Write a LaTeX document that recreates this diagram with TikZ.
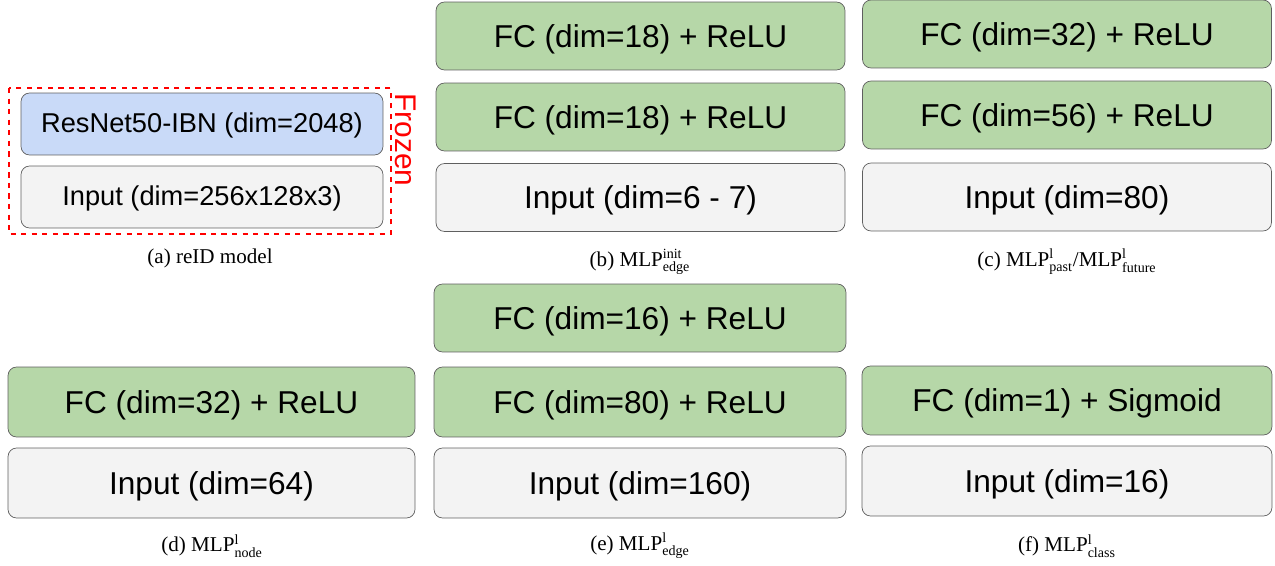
\documentclass[tikz,border=0pt]{standalone}
\usepackage{amsmath}
\usepackage{fontspec}
\setmainfont{Liberation Serif}
\newfontfamily\boxfont{Liberation Sans}
\definecolor{fcgreen}{HTML}{B6D7A8}
\definecolor{resblue}{HTML}{C9DAF8}
\definecolor{ingrey}{HTML}{F3F3F3}
\definecolor{edgegrey}{HTML}{5F5F5F}
\newcommand{\mlp}[2]{MLP$^{\text{#1}}_{\text{#2}}$}
\tikzset{
	layerbox/.style={draw=edgegrey, rounded corners=0.17cm, minimum width=8.18cm, minimum height=1.36cm, text height=13pt, text depth=0pt, font=\boxfont\fontsize{18}{20}\selectfont},
	fcbox/.style={layerbox, fill=fcgreen},
	inbox/.style={layerbox, fill=ingrey},
	smallbox/.style={draw=edgegrey, rounded corners=0.17cm, minimum width=7.24cm, minimum height=1.24cm, text height=11pt, text depth=1pt, font=\boxfont\fontsize{15.5}{17}\selectfont},
	subcap/.style={font=\fontsize{12}{14}\selectfont}
}
\begin{document}
\begin{tikzpicture}[x=0.02cm,y=-0.02cm]
		\useasboundingbox (0,0) rectangle (1275,565);
		% (a) reID model
		\node[smallbox, fill=resblue] (resnet) at (202,124) {ResNet50-IBN (dim=2048)};
		\node[smallbox, fill=ingrey] (ainput) at (202,197) {Input (dim=256x128x3)};
		\draw[red, dashed, thick] (9,88) rectangle (391,234);
		\node[red, rotate=-90, font=\boxfont\fontsize{17}{19}\selectfont] (frozen) at (406,140) {Frozen};
		\node[subcap] (capa) at (210,258) {(a) reID model};
		% (b) initial edge encoder
		\node[fcbox] (bfctwo) at (640.5,36) {FC (dim=18) + ReLU};
		\node[fcbox] (bfcone) at (640.5,117) {FC (dim=18) + ReLU};
		\node[inbox] (binput) at (640.5,197.5) {Input (dim=6 - 7)};
		\node[subcap] (capb) at (640,262) {(b) \mlp{init}{edge}};
		% (c) past / future
		\node[fcbox] (cfctwo) at (1067,34) {FC (dim=32) + ReLU};
		\node[fcbox] (cfcone) at (1067,115) {FC (dim=56) + ReLU};
		\node[inbox] (cinput) at (1067,197) {Input (dim=80)};
		\node[subcap] (capc) at (1067,262) {(c) \mlp{l}{past}/\mlp{l}{future}};
		% (d) node update
		\node[fcbox, minimum width=8.14cm, minimum height=1.4cm] (dfc) at (211.5,402) {FC (dim=32) + ReLU};
		\node[inbox, minimum width=8.14cm, minimum height=1.4cm] (dinput) at (211.5,483) {Input (dim=64)};
		\node[subcap] (capd) at (212,546) {(d) \mlp{l}{node}};
		% (e) edge update
		\node[fcbox, minimum width=8.24cm] (efctwo) at (640,318) {FC (dim=16) + ReLU};
		\node[fcbox, minimum width=8.24cm, minimum height=1.4cm] (efcone) at (640,402) {FC (dim=80) + ReLU};
		\node[inbox, minimum width=8.24cm, minimum height=1.4cm] (einput) at (640,483) {Input (dim=160)};
		\node[subcap] (cape) at (640,546) {(e) \mlp{l}{edge}};
		% (f) classifier
		\node[fcbox, minimum width=8.2cm, minimum height=1.38cm] (ffc) at (1067,400.5) {FC (dim=1) + Sigmoid};
		\node[inbox, minimum width=8.2cm, minimum height=1.4cm] (finput) at (1067,481) {Input (dim=16)};
		\node[subcap] (capf) at (1067,546) {(f) \mlp{l}{class}};
\end{tikzpicture}
\end{document}
